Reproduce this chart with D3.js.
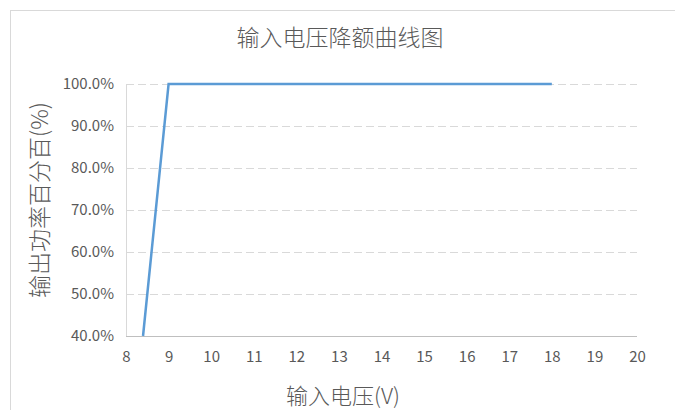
<!DOCTYPE html>
<html>
<head>
<meta charset="utf-8">
<title>输入电压降额曲线图</title>
<script src="https://cdn.jsdelivr.net/npm/d3@7"></script>
<style>
  body { margin: 0; background: #fff; }
  text { font-family: "Noto Sans CJK SC", "Liberation Sans", sans-serif; fill: #595959; }
</style>
</head>
<body>
<script>
// data
var voltage = [8.4, 9, 18];
var outputPct = [0.40, 1.00, 1.00];
var xTicks = [8, 9, 10, 11, 12, 13, 14, 15, 16, 17, 18, 19, 20];
var yTicks = [0.4, 0.5, 0.6, 0.7, 0.8, 0.9, 1.0];

var width = 675, height = 410;
var margins = { left: 126, top: 84, right: 38, bottom: 74 };

var svg = d3.select('body').append('svg')
    .attr('width', width)
    .attr('height', height);

// chart frame
svg.append('rect')
    .attr('x', 10.5).attr('y', 10.5)
    .attr('width', width + 10).attr('height', height + 10)
    .attr('fill', '#fff')
    .attr('stroke', '#d9d9d9');

var x = d3.scaleLinear().domain([8, 20]).range([margins.left, width - margins.right]);
var y = d3.scaleLinear().domain([0.4, 1.0]).range([height - margins.bottom, margins.top]);

// grid lines
svg.append('g').selectAll('line')
    .data(yTicks.filter(function (d) { return d > 0.4; }))
    .enter().append('line')
    .attr('x1', x(8)).attr('x2', x(20))
    .attr('y1', function (d) { return Math.round(y(d)) + 0.5; })
    .attr('y2', function (d) { return Math.round(y(d)) + 0.5; })
    .attr('stroke', '#d9d9d9')
    .attr('stroke-dasharray', '8,4');

// axis lines
svg.append('line')
    .attr('x1', x(8)).attr('x2', x(20))
    .attr('y1', Math.round(y(0.4)) + 0.5).attr('y2', Math.round(y(0.4)) + 0.5)
    .attr('stroke', '#bfbfbf');
svg.append('line')
    .attr('x1', Math.round(x(8)) + 0.5).attr('x2', Math.round(x(8)) + 0.5)
    .attr('y1', y(1.0)).attr('y2', y(0.4))
    .attr('stroke', '#d9d9d9');

// x axis labels
var xAxis = d3.axisBottom(x).tickValues(xTicks).tickSize(0).tickPadding(15);
var gx = svg.append('g')
    .attr('transform', 'translate(0,' + y(0.4) + ')')
    .call(xAxis);
gx.select('.domain').remove();
gx.selectAll('text').style('font-size', '15px').attr('fill', '#595959');

// y axis labels
var yAxis = d3.axisLeft(y).tickValues(yTicks).tickSize(0).tickPadding(12)
    .tickFormat(d3.format('.1%'));
var gy = svg.append('g')
    .attr('transform', 'translate(' + x(8) + ',0)')
    .call(yAxis);
gy.select('.domain').remove();
gy.selectAll('text').style('font-size', '15px').attr('fill', '#595959');

// the curve
var points = voltage.map(function (v, i) { return { x: v, y: outputPct[i] }; });
var line = d3.line()
    .x(function (d) { return x(d.x); })
    .y(function (d) { return y(d.y); });
svg.append('path')
    .datum(points)
    .attr('d', line)
    .attr('fill', 'none')
    .attr('stroke', '#5b9bd5')
    .attr('stroke-width', 2.5);

// titles
svg.append('text')
    .attr('x', 340).attr('y', 46)
    .attr('text-anchor', 'middle')
    .style('font-size', '23px')
    .style('font-weight', 300)
    .text('输入电压降额曲线图');

svg.append('text')
    .attr('x', 343).attr('y', 404)
    .attr('text-anchor', 'middle')
    .style('font-size', '22px')
    .style('font-weight', 300)
    .text('输入电压(V)');

svg.append('text')
    .attr('transform', 'translate(48,' + 200 + ') rotate(-90)')
    .attr('text-anchor', 'middle')
    .style('font-size', '23px')
    .style('font-weight', 300)
    .text('输出功率百分百(%)');
</script>
</body>
</html>
